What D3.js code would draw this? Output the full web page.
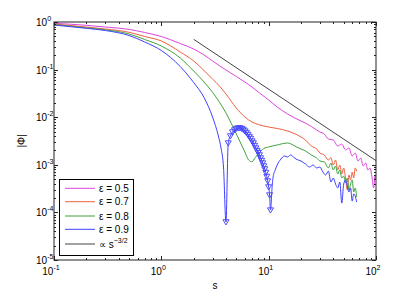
<!DOCTYPE html>
<html>
<head>
<meta charset="utf-8">
<script src="https://cdn.jsdelivr.net/npm/d3@7"></script>
<style>
  body { margin: 0; background: #fff; }
  svg { font-family: "Liberation Sans", Arial, sans-serif; }
</style>
</head>
<body>
<svg id="chart" width="415" height="293"></svg>
<script>
// (s, Phi); negative Phi are drawn with triangles
const s05 = [0.1,0.2,0.3,0.5,0.7,1,1.5,2,2.5,3,4,5,6,7,8,10,12,15,20,22,25,28,30,33,36,40,44,48,52,56,60,64,68,72,76,80,84,88,92,95,98,100];
const phi05 = [0.939,0.852,0.785,0.700,0.602,0.496,0.353,0.271,0.203,0.152,0.098,0.0716,0.0549,0.0431,0.0338,0.0230,0.0164,0.0117,0.00832,0.00755,0.00638,0.00538,0.00489,0.00444,0.00348,0.00332,0.00248,0.00273,0.00205,0.00225,0.00153,0.00177,0.00120,0.00139,0.000944,0.00109,0.000778,0.000857,0.000528,0.000326,0.000582,0.000480];

const s07 = [0.1,0.2,0.3,0.5,0.7,1,1.5,2,2.5,3,3.5,4,5,6,7,8,10,12,15,20,22,25,28,30,33,36,38,40,42,44,46,48,50,52,54,56,58,60,62,64,66];
const phi07 = [0.908,0.785,0.713,0.608,0.496,0.399,0.234,0.152,0.0953,0.0635,0.0444,0.0307,0.0156,0.0101,0.00792,0.00703,0.00622,0.00579,0.00513,0.00384,0.00332,0.00248,0.00215,0.00177,0.00161,0.00126,0.00142,0.00099,0.00126,0.000778,0.00099,0.000641,0.000857,0.000528,0.000296,0.000611,0.000480,0.000706,0.000528,0.000857,0.000741];

const s08 = [0.1,0.2,0.3,0.5,0.7,1,1.5,2,2.5,3,4,5,6,6.5,7,7.5,8,9,10,12,15,18,20,22,25,28,30,33,36,38,40,42,44,46,48,50,52,54,56,58,60,62,64,66];
const phi08 = [0.886,0.755,0.686,0.560,0.429,0.313,0.175,0.0935,0.0549,0.0333,0.0123,0.00444,0.00186,0.00126,0.00116,0.00142,0.00169,0.00220,0.00237,0.00261,0.00287,0.00240,0.00215,0.00195,0.00161,0.00139,0.00120,0.00115,0.000857,0.00109,0.000778,0.000944,0.000641,0.000778,0.000528,0.000582,0.000415,0.000528,0.000296,0.000395,0.000480,0.000268,0.000326,0.000211];

const s09 = [0.1,0.2,0.3,0.5,0.7,1,1.5,2,2.5,3,3.4,3.6,3.8,
  4.0,4.2,4.4,4.6,4.8,5.0,5.2,5.4,5.6,5.8,6.0,6.2,6.4,6.6,6.8,7.0,7.2,7.4,7.6,7.8,8.0,8.2,8.4,8.6,8.8,9.0,9.2,9.4,9.6,9.8,10.0,10.2,10.4,
  10.8,11,11.5,12,13,14,15,16,17,18,20,22,24,26,28,30,32,34,36,38,40,42,44,46,48,50,52,54,56,58,60,62,64,66];
const phi09 = [0.865,0.737,0.663,0.520,0.380,0.252,0.116,0.0536,0.0259,0.0101,0.00403,0.00225,0.000857,
  -0.000063,-0.00287,-0.00403,-0.00489,-0.00538,-0.00579,-0.00593,-0.00593,-0.00579,-0.00552,-0.00513,-0.00477,-0.00433,-0.00393,-0.00357,-0.00316,-0.00287,-0.00254,-0.00225,-0.00200,-0.00181,-0.00161,-0.00139,-0.00123,-0.00109,-0.000944,-0.000817,-0.000689,-0.000568,-0.000457,-0.000342,-0.000232,-0.000112,
  0.000377,0.000554,0.000778,0.000990,0.00132,0.00153,0.00146,0.00161,0.00146,0.00132,0.00120,0.00104,0.000899,0.000990,0.000857,0.000899,0.000706,0.000611,0.000741,0.000435,0.000528,0.000395,0.000326,0.000435,0.000157,0.000395,0.000480,0.000359,0.000268,0.000326,0.000173,0.000244,0.000222,0.000165];

const sRef = [2, 100];
const phiRef = [0.433, 0.001225];

const legendLabels = ["ε = 0.5", "ε = 0.7", "ε = 0.8", "ε = 0.9"];
const colors = ["#dd44dd", "#ee6040", "#40a040", "#4040ff"];
const xTicks = [-1, 0, 1, 2];
const yTicks = [0, -1, -2, -3, -4, -5];

const series = [
  { s: s05, phi: phi05 },
  { s: s07, phi: phi07 },
  { s: s08, phi: phi08 },
  { s: s09, phi: phi09 }
];

const svg = d3.select("#chart");
const L = 54, R = 376, T = 22, B = 260;

const x = d3.scaleLog().domain([0.1, 100]).range([L, R]);
const y = d3.scaleLog().domain([1e-5, 1]).range([B, T]);

const plot = svg.append("g");
plot.append("defs").append("clipPath").attr("id", "clip")
  .append("rect").attr("x", L).attr("y", T).attr("width", R - L).attr("height", B - T);

const line = d3.line().x(d => x(d[0])).y(d => y(Math.abs(d[1])));
const smooth = d3.line().x(d => x(d[0])).y(d => y(Math.abs(d[1]))).curve(d3.curveMonotoneX);

series.forEach((sr, i) => {
  const pts = sr.s.map((v, k) => [v, sr.phi[k]]);
  plot.append("path")
    .attr("clip-path", "url(#clip)")
    .attr("d", smooth(pts))
    .attr("fill", "none")
    .attr("stroke", colors[i])
    .attr("stroke-width", 1);
  // negative values: open triangles
  plot.selectAll(null)
    .data(pts.filter(d => d[1] < 0))
    .enter().append("path")
    .attr("transform", d => `translate(${x(d[0])},${y(Math.abs(d[1]))})`)
    .attr("d", "M-3,-2.2L3,-2.2L0,3Z")
    .attr("fill", "none")
    .attr("stroke", colors[i])
    .attr("stroke-width", 0.9);
});

plot.append("path")
  .attr("d", line(sRef.map((v, k) => [v, phiRef[k]])))
  .attr("fill", "none")
  .attr("stroke", "#444")
  .attr("stroke-width", 1);

// frame + ticks (inside, all four sides)
const axes = svg.append("g").attr("stroke", "#222").attr("stroke-width", 1);
axes.append("rect").attr("x", L).attr("y", T).attr("width", R - L).attr("height", B - T)
  .attr("fill", "none");

const xt = [];
for (let e = -1; e < 2; e++) for (let m = 1; m < 10; m++) xt.push([m * Math.pow(10, e), m === 1]);
xt.push([100, true]);
xt.forEach(([v, major]) => {
  const px = Math.round(x(v)) + 0.5;
  const len = major ? 4 : 2;
  axes.append("line").attr("x1", px).attr("x2", px).attr("y1", B).attr("y2", B - len);
  axes.append("line").attr("x1", px).attr("x2", px).attr("y1", T).attr("y2", T + len);
});
const yt = [];
for (let e = -5; e < 0; e++) for (let m = 1; m < 10; m++) yt.push([m * Math.pow(10, e), m === 1]);
yt.push([1, true]);
yt.forEach(([v, major]) => {
  const py = Math.round(y(v)) + 0.5;
  const len = major ? 4 : 2;
  axes.append("line").attr("y1", py).attr("y2", py).attr("x1", L).attr("x2", L + len);
  axes.append("line").attr("y1", py).attr("y2", py).attr("x1", R).attr("x2", R - len);
});

// tick labels
const lab = svg.append("g").attr("fill", "#000").attr("font-size", 10);
xTicks.forEach(e => {
  const t = lab.append("text").attr("x", x(Math.pow(10, e)) - 3).attr("y", 275).attr("text-anchor", "middle");
  t.append("tspan").text("10");
  t.append("tspan").attr("dy", -5).attr("font-size", 7).text(e);
});
yTicks.forEach(e => {
  const t = lab.append("text").attr("x", 36).attr("y", y(Math.pow(10, e)) + 4);
  t.append("tspan").text("10");
  t.append("tspan").attr("dy", -5).attr("font-size", 7).text(e);
});

svg.append("text").attr("x", 215).attr("y", 289).attr("text-anchor", "middle")
  .attr("font-size", 10).text("s");
svg.append("text").attr("transform", "translate(25,141) rotate(-90)").attr("text-anchor", "middle")
  .attr("font-size", 10).text("|Φ|");

// legend
const leg = svg.append("g");
leg.append("rect").attr("x", 59.5).attr("y", 179.5).attr("width", 74).attr("height", 76)
  .attr("fill", "#fff").attr("stroke", "#000").attr("stroke-width", 1);
const legY = [188.3, 201.7, 216, 229.3, 244];
legendLabels.concat(["∝ s"]).forEach((txt, i) => {
  leg.append("line").attr("x1", 65).attr("x2", 95).attr("y1", legY[i]).attr("y2", legY[i])
    .attr("stroke", i < 4 ? colors[i] : "#444").attr("stroke-width", 1);
  const t = leg.append("text").attr("x", 99).attr("y", legY[i] + 3.5).attr("font-size", 10);
  t.append("tspan").text(txt);
  if (i === 4) t.append("tspan").attr("dy", -5).attr("font-size", 7).text("−3/2");
});
</script>
</body>
</html>
